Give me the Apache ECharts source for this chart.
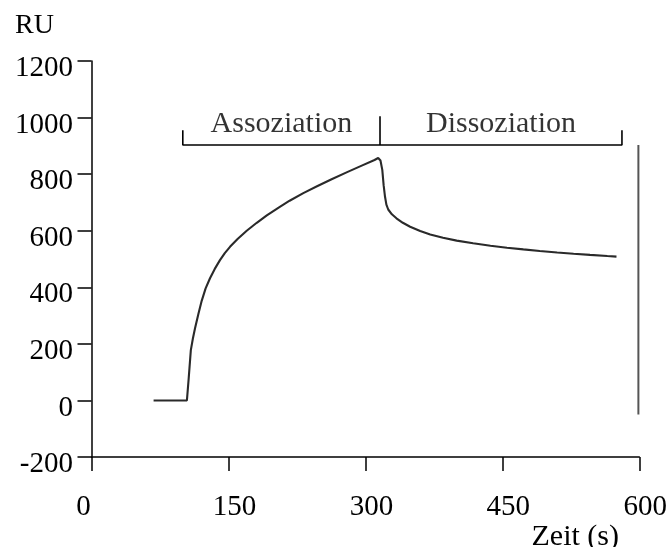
<!DOCTYPE html>
<html>
<head>
<meta charset="utf-8">
<script src="https://cdn.jsdelivr.net/npm/echarts@6/dist/echarts.min.js"></script>
<style>
  html, body { margin: 0; padding: 0; background: #fff; }
  #chart { width: 671px; height: 547px; }
</style>
</head>
<body>
<div id="chart"></div>
<script>
// Sensorgram: response units (RU) over time (s)
var timeS = [68, 104.5, 106.5, 108.8, 111, 113.4, 117, 120.7, 125, 129.8, 135, 140.7, 146, 151.7, 160, 170, 181, 192, 205, 217, 232, 247, 263, 280, 296, 310, 314, 316.5, 318.5, 320, 321.5, 323, 325, 329, 334, 341, 349, 360, 371, 385, 400, 418, 437, 455, 473, 491, 510, 528, 546, 565, 575];
var responseRU = [0, 0, 80, 178, 218, 255, 305, 352, 396, 432, 465, 496, 521, 543, 571, 600, 628, 654, 682, 706, 733, 757, 782, 807, 830, 850, 857, 848, 815, 760, 720, 692, 675, 658, 644, 628, 614, 599, 587, 575, 565, 555.5, 547, 540, 534, 528.5, 523, 518.5, 514.5, 510.5, 508.5];

// Axis ticks
var xTicks = [0, 150, 300, 450, 600];
var yTicks = [-200, 0, 200, 400, 600, 800, 1000, 1200];

// Phase brackets: start of association, switch to dissociation, end of run
var phaseNames = ['Assoziation', 'Dissoziation'];
var phaseBounds = [100, 316, 581];
var bracketLevel = 903;
var bracketEndTop = 955;
var bracketMidTop = 1005;
var phaseLabelLevel = 978;

// Vertical marker on the right
var markerX = 599;
var markerRange = [-50, 903];

var serif = '"Liberation Serif", "Times New Roman", serif';
var fsTick = 29;
var fsText = 30;

var bracketPath = [
  [phaseBounds[0], bracketEndTop],
  [phaseBounds[0], bracketLevel],
  [phaseBounds[1], bracketLevel],
  [phaseBounds[1], bracketMidTop],
  [phaseBounds[1], bracketLevel],
  [phaseBounds[2], bracketLevel],
  [phaseBounds[2], bracketEndTop]
];

var phaseLabels = phaseNames.map(function (n, i) {
  return { name: n, value: [(phaseBounds[i] + phaseBounds[i + 1]) / 2, phaseLabelLevel] };
});

var chart = echarts.init(document.getElementById('chart'), null, { renderer: 'canvas' });

chart.setOption({
  animation: false,
  backgroundColor: '#ffffff',
  grid: { left: 91.5, right: 31.7, top: 61, bottom: 90, containLabel: false },
  xAxis: {
    type: 'value',
    min: xTicks[0],
    max: xTicks[xTicks.length - 1],
    interval: 150,
    axisLine: { show: true, onZero: false, lineStyle: { color: '#000', width: 1.5 } },
    axisTick: { show: true, inside: false, length: 14, lineStyle: { color: '#000', width: 1.5 } },
    splitLine: { show: false },
    axisLabel: {
      margin: 36,
      fontFamily: serif,
      fontSize: fsTick,
      color: '#000',
      formatter: function (v) { return v === 0 ? '{z|0}' : '{n|' + v + '}'; },
      rich: {
        z: { fontFamily: serif, fontSize: fsTick, color: '#000', padding: [0, 16, 0, 0] },
        n: { fontFamily: serif, fontSize: fsTick, color: '#000', padding: [0, 0, 0, 12] }
      }
    }
  },
  yAxis: {
    type: 'value',
    min: yTicks[0],
    max: yTicks[yTicks.length - 1],
    interval: 200,
    axisLine: { show: true, onZero: false, lineStyle: { color: '#000', width: 1.5 } },
    axisTick: { show: true, inside: false, length: 14, lineStyle: { color: '#000', width: 1.5 } },
    splitLine: { show: false },
    axisLabel: {
      margin: 18.5,
      fontFamily: serif,
      fontSize: fsTick,
      color: '#000',
      formatter: function (v) { return '{t|' + String(v) + '}'; },
      rich: {
        t: { fontFamily: serif, fontSize: fsTick, color: '#000', padding: [15, 0, 0, 0] }
      }
    }
  },
  series: [
    {
      name: 'RU',
      type: 'line',
      data: timeS.map(function (t, i) { return [t, responseRU[i]]; }),
      showSymbol: false,
      symbol: 'none',
      lineStyle: { color: '#2a2a2a', width: 2.1 },
      z: 3
    },
    {
      name: 'Phasen',
      type: 'line',
      data: bracketPath,
      showSymbol: false,
      symbol: 'none',
      lineStyle: { color: '#000', width: 1.6 },
      z: 2
    },
    {
      name: 'Marker',
      type: 'line',
      data: [[markerX, markerRange[0]], [markerX, markerRange[1]]],
      showSymbol: false,
      symbol: 'none',
      lineStyle: { color: '#555', width: 2 },
      z: 2
    },
    {
      name: 'Phasenbeschriftung',
      type: 'scatter',
      data: phaseLabels,
      symbolSize: 0,
      itemStyle: { color: 'rgba(0,0,0,0)' },
      label: {
        show: true,
        position: 'inside',
        formatter: '{b}',
        fontFamily: serif,
        fontSize: fsText,
        color: '#000'
      },
      z: 4
    }
  ],
  graphic: [
    {
      type: 'text',
      x: 15,
      y: 26,
      style: { text: 'RU', font: '28px ' + serif, fill: '#000', align: 'left', verticalAlign: 'middle' }
    },
    {
      type: 'text',
      x: 619,
      y: 537,
      style: { text: 'Zeit (s)', font: fsText + 'px ' + serif, fill: '#000', align: 'right', verticalAlign: 'middle' }
    }
  ]
});
</script>
</body>
</html>
